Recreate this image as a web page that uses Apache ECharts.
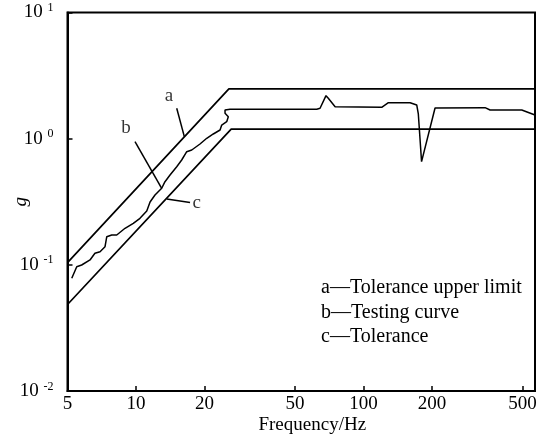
<!DOCTYPE html>
<html>
<head>
<meta charset="utf-8">
<script src="https://cdn.jsdelivr.net/npm/echarts@6/dist/echarts.min.js"></script>
<style>html,body{margin:0;padding:0;background:#fff}#c{width:549px;height:435px}</style>
</head>
<body>
<div id="c"></div>
<script>
// ---- data ----
const xTickLabels = [5, 10, 20, 50, 100, 200, 500];
const xMin = 5, xMax = 567;
const yMin = 0.01, yMax = 10;

// a: tolerance upper limit
const freqA = [5, 25.6, 567];
const gA = [0.104, 2.48, 2.48];
// c: tolerance
const freqC = [5, 26.2, 567];
const gC = [0.0485, 1.19, 1.19];
// b: testing curve
const freqB = [5.22, 5.49, 5.77, 6.28, 6.60, 6.95, 7.31, 7.44, 7.82, 8.23, 8.95, 9.73, 10.41, 11.15, 11.53, 12.12, 12.97, 13.41, 14.11, 15.10, 15.88, 16.71, 17.58, 19.11, 20.46, 21.87, 23.41, 23.81, 25.04, 25.45, 24.62, 24.62, 25.89, 62.3, 64.4, 68.4, 70.0, 75.0, 120.2, 128.6, 160.2, 171.3, 174.1, 179.9, 206.2, 342.1, 359.9, 496, 567];
const gB = [0.0782, 0.0967, 0.0997, 0.1093, 0.1234, 0.1271, 0.1392, 0.1671, 0.1724, 0.1724, 0.1949, 0.2134, 0.2338, 0.2672, 0.3148, 0.3577, 0.4043, 0.456, 0.5154, 0.5996, 0.6775, 0.788, 0.813, 0.9075, 1.007, 1.089, 1.171, 1.283, 1.363, 1.493, 1.589, 1.687, 1.709, 1.709, 1.741, 2.191, 2.089, 1.792, 1.773, 1.928, 1.928, 1.849, 1.569, 0.657, 1.751, 1.76, 1.687, 1.687, 1.541];

// annotation letters and leader lines (data coordinates: Hz, g)
const annotNames = ['a', 'b', 'c'];
const annotTextPos = [[13.97, 2.19], [9.04, 1.215], [18.49, 0.3108]];
const leaderStart = [[15.10, 1.741], [9.90, 0.946], [13.65, 0.3325]];
const leaderEnd = [[16.31, 1.037], [12.97, 0.4043], [17.28, 0.3119]];

const legendLines = ['a\u2014Tolerance upper limit', 'b\u2014Testing curve', 'c\u2014Tolerance'];

// ---- build ----
const L = Math.log10;
const FONT = "'Liberation Serif', 'Times New Roman', serif";
const toPts = (fs, gs) => fs.map((f, i) => [L(f), gs[i]]);

const chart = echarts.init(document.getElementById('c'), null, {renderer: 'canvas'});
const lineStyle = {color: '#000', width: 1.7};

chart.setOption({
  animation: false,
  backgroundColor: '#fff',
  grid: {left: 67.5, right: 14, top: 12.5, bottom: 44, containLabel: false, outerBoundsMode: 'none',
    show: true, borderColor: '#000', borderWidth: 2, backgroundColor: 'transparent'},
  xAxis: {
    type: 'value', min: L(xMin), max: L(xMax),
    splitLine: {show: false},
    axisLine: {lineStyle: {color: '#000', width: 2}},
    axisTick: {inside: true, length: 5, lineStyle: {color: '#000', width: 1.5}, customValues: xTickLabels.slice(1).map(L)},
    axisLabel: {customValues: xTickLabels.map(L), formatter: v => String(Math.round(Math.pow(10, v))), color: '#000', fontFamily: FONT, fontSize: 19, margin: 4},
    name: 'Frequency/Hz', nameLocation: 'middle', nameGap: 25, nameMoveOverlap: false,
    nameTextStyle: {color: '#000', fontFamily: FONT, fontSize: 19, padding: [0, 0, 0, 22]}
  },
  yAxis: {
    type: 'log', logBase: 10, min: yMin, max: yMax,
    splitLine: {show: false},
    minorTick: {show: false},
    axisLine: {lineStyle: {color: '#000', width: 2}},
    axisTick: {inside: true, length: 5, lineStyle: {color: '#000', width: 1.5}},
    axisLabel: {
      color: '#000', fontFamily: FONT, fontSize: 19, margin: 14,
      formatter: v => '{b|10 }{s|' + Math.round(L(v)) + '}',
      rich: {
        b: {fontFamily: FONT, fontSize: 19, color: '#000'},
        s: {fontFamily: FONT, fontSize: 12, color: '#000', padding: [0, 0, 9, 0]}
      }
    },
    name: 'g', nameLocation: 'middle', nameGap: 37, nameRotate: 90, nameMoveOverlap: false,
    nameTextStyle: {color: '#000', fontFamily: FONT, fontSize: 19, fontStyle: 'italic'}
  },
  series: [
    {type: 'line', data: toPts(freqA, gA), showSymbol: false, lineStyle, silent: true},
    {type: 'line', data: toPts(freqB, gB), showSymbol: false, lineStyle: {color: '#000', width: 1.5}, silent: true,
      markLine: {
        silent: true, symbol: ['none', 'none'], label: {show: false},
        lineStyle: {color: '#000', width: 1.5, type: 'solid'},
        data: leaderStart.map((s, i) => [{coord: [L(s[0]), s[1]]}, {coord: [L(leaderEnd[i][0]), leaderEnd[i][1]]}])
      }
    },
    {type: 'line', data: toPts(freqC, gC), showSymbol: false, lineStyle, silent: true},
    {type: 'scatter', symbolSize: 0, silent: true,
      data: annotTextPos.map((p, i) => ({name: annotNames[i], value: [L(p[0]), p[1]]})),
      label: {show: true, formatter: '{b}', position: 'inside', color: '#000', fontFamily: FONT, fontSize: 19}
    }
  ],
  graphic: [{
    type: 'text', left: 321, top: 276,
    style: {text: legendLines.join('\n'), font: "20px " + FONT, fill: '#000', lineHeight: 24.3}
  }]
});
</script>
</body>
</html>
